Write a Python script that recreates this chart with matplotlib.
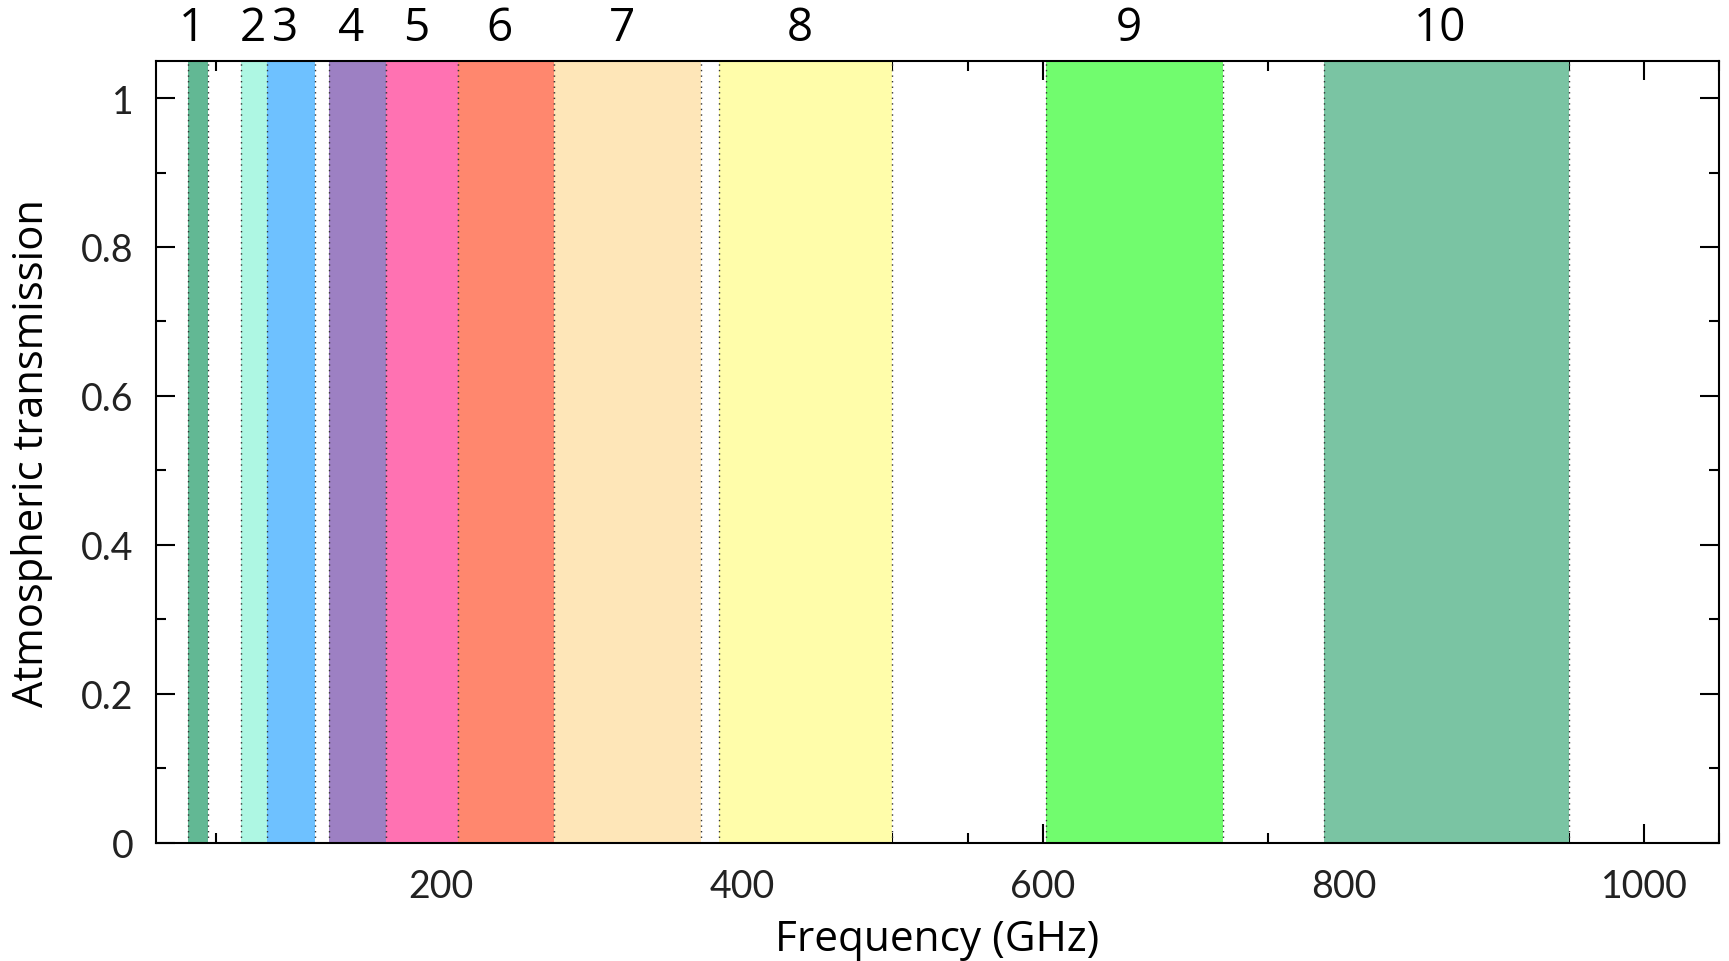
import matplotlib
matplotlib.use('Agg')
import matplotlib.pyplot as plt
from matplotlib.ticker import MultipleLocator
import matplotlib.transforms as mtransforms

plt.rcParams.update({
    'font.family': ['Open Sans', 'DejaVu Sans'],
    'axes.linewidth': 1.5,
    'xtick.direction': 'in', 'ytick.direction': 'in',
    'xtick.top': True, 'ytick.right': True,
    'xtick.major.size': 14, 'xtick.minor.size': 7,
    'ytick.major.size': 14, 'ytick.minor.size': 7,
    'xtick.major.width': 1.5, 'xtick.minor.width': 1.5,
    'ytick.major.width': 1.5, 'ytick.minor.width': 1.5,
})

# ALMA receiver bands (GHz)
BANDS = ['1', '2', '3', '4', '5', '6', '7', '8', '9', '10']
BAND_LO = [31.3, 67, 84, 125, 163, 211, 275, 385, 602, 787]
BAND_HI = [45, 90, 116, 163, 211, 275, 373, 500, 720, 950]
BAND_COLORS = ['#62B894', '#AEF7E3', '#6EC1FF', '#9D80C3', '#FF72B2',
               '#FF876E', '#FEE6B8', '#FFFDAA', '#71FC6E', '#7AC4A3']

fig = plt.figure(figsize=(17.29, 9.62), dpi=100)
ax = fig.add_axes([0.090, 0.1227, 0.9044, 0.8131])

label_tr = mtransforms.blended_transform_factory(ax.transData, ax.transAxes)
for i, (name, lo, hi, c) in enumerate(zip(BANDS, BAND_LO, BAND_HI, BAND_COLORS)):
    ax.axvspan(lo, hi, color=c, lw=0, zorder=1 + i)
    for xv in (lo, hi):
        ax.axvline(xv, color='#333333', lw=1.0, ls=(0, (1, 3)), zorder=1.5 + i)
    # labels sit a little left of the band centre in the original
    ax.text((lo + hi) / 2 - 4, 1.027, name, transform=label_tr, ha='center', va='baseline',
            fontsize=33, color='black', clip_on=False)

ax.set_xlim(10, 1050)
ax.set_ylim(0, 1.05)
ax.xaxis.set_major_locator(MultipleLocator(200))
ax.xaxis.set_minor_locator(MultipleLocator(50))
ax.yaxis.set_major_locator(MultipleLocator(0.2))
ax.yaxis.set_minor_locator(MultipleLocator(0.1))
ax.yaxis.set_major_formatter(plt.FuncFormatter(lambda v, p: f'{v:g}'))
ax.tick_params(axis='x', which='both', labeltop=False, pad=18)
ax.tick_params(axis='y', which='both', labelright=False, pad=16)
for lab in ax.get_xticklabels() + ax.get_yticklabels():
    lab.set_family(['Lato', 'DejaVu Sans'])
    lab.set_fontsize(27)
    lab.set_color('#222222')
for s in ax.spines.values():
    s.set_zorder(30)

ax.set_xlabel('Frequency (GHz)', fontsize=30.5, labelpad=10)
ax.set_ylabel('Atmospheric transmission', fontsize=30, labelpad=20)

fig.savefig('out.png', dpi=100, facecolor='white')
